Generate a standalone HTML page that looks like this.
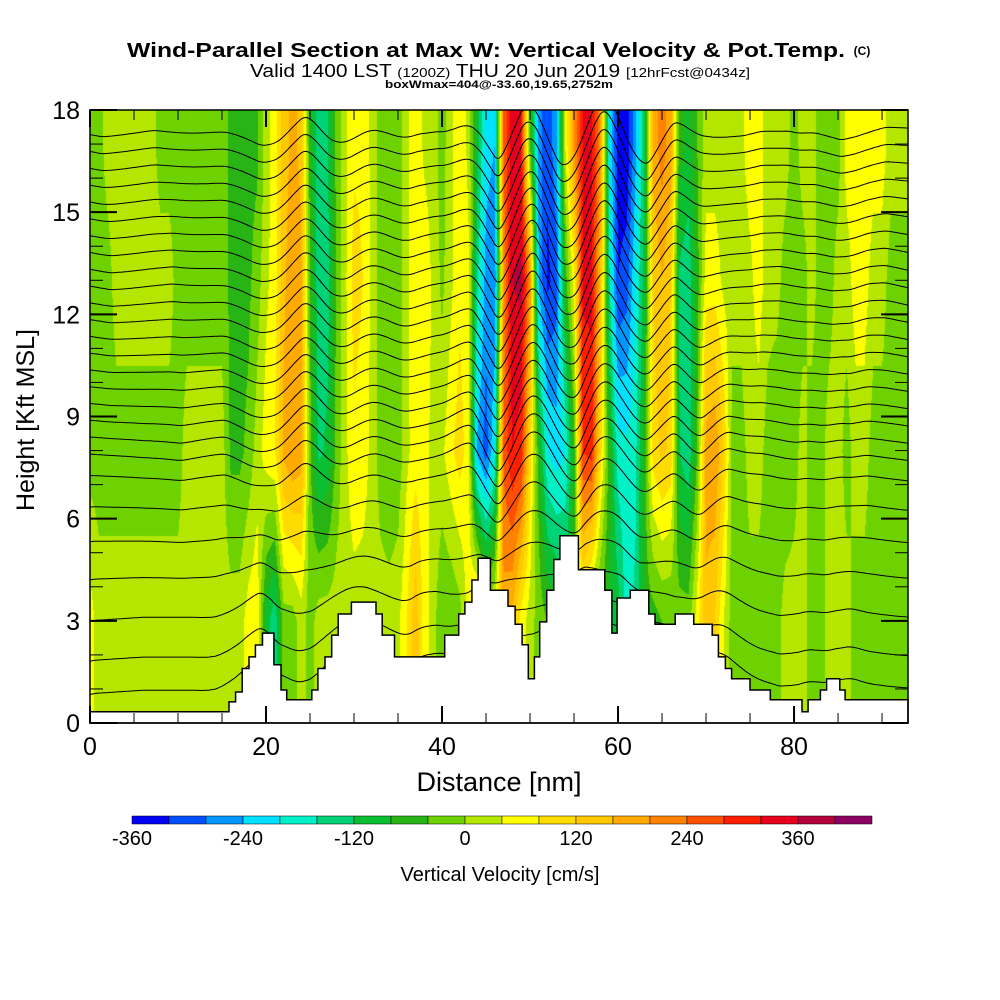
<!DOCTYPE html>
<html><head><meta charset="utf-8"><style>
body{margin:0;background:#fff;width:1000px;height:1000px;overflow:hidden;font-family:"Liberation Sans",sans-serif}
#wrap{position:relative;width:1000px;height:1000px}
canvas{position:absolute;left:90px;top:110px}
svg{position:absolute;left:0;top:0}
</style></head><body>
<div id="wrap">
<canvas id="cv" width="818" height="613"></canvas>
<svg id="sv" width="1000" height="1000">
<g id="lines"></g>
<g id="terrain"></g>
<g id="axes"></g>
<text x="127" y="57" font-size="20" font-weight="bold" textLength="718" lengthAdjust="spacingAndGlyphs">Wind-Parallel Section at Max W: Vertical Velocity &amp; Pot.Temp.</text>
<text x="862" y="55" text-anchor="middle" font-size="12" font-weight="bold">(C)</text>
<text x="250" y="77" font-size="18" textLength="500" lengthAdjust="spacingAndGlyphs">Valid 1400 LST <tspan font-size="13">(1200Z)</tspan> THU 20 Jun 2019 <tspan font-size="13">[12hrFcst@0434z]</tspan></text>
<text x="385" y="88" font-size="11" font-weight="bold" textLength="228" lengthAdjust="spacingAndGlyphs">boxWmax=404@-33.60,19.65,2752m</text>
<text x="499" y="791" text-anchor="middle" font-size="27">Distance [nm]</text>
<text transform="translate(34,420) rotate(-90)" text-anchor="middle" font-size="25">Height [Kft MSL]</text>
<g id="cbar"></g>
<text x="500" y="881" text-anchor="middle" font-size="20">Vertical Velocity [cm/s]</text>
</svg>
</div>
<script>
const levelsKft=[3,8,13,17];
const w3=[60,20,20,20,20,20,20,20,20,20,20,20,20,20,20,20,20,20,60,70,-100,-150,-20,-20,20,-20,20,20,20,20,20,20,20,20,20,30,80,150,60,20,-40,-40,-20,60,150,40,60,180,150,60,20,-20,-40,-60,-80,-60,40,-40,-60,-80,-100,-180,-150,-60,-60,-40,-40,-20,-20,60,150,120,40,-20,-20,-20,-20,-20,-20,20,20,20,-20,-20,20,20,20,-20,-20,-20,-20,-20,-20];
const w8=[-20,-20,-20,-20,-20,-20,-20,-20,-20,-20,-20,20,20,20,20,20,-50,-50,-30,20,60,80,170,200,180,-30,-130,-110,-30,30,70,60,30,-20,-40,-30,30,60,50,30,30,70,100,60,-250,-300,-200,250,320,300,100,-60,-200,-220,-200,-60,280,300,100,-60,-180,-190,-170,-60,100,130,110,-120,-150,-40,180,200,120,-20,-20,20,20,-20,-40,-40,-20,20,-20,-20,20,20,-20,20,20,-20,-20,-20,-20];
const w13=[-20,-20,-20,20,20,20,20,20,20,20,-20,-20,-20,-20,-20,-20,-50,-50,-50,-20,30,60,150,190,170,-40,-150,-140,-30,30,100,80,30,-20,-40,-30,30,80,70,30,-10,30,70,50,-150,-260,-280,200,360,370,200,-250,-330,-300,-60,60,330,330,150,-150,-320,-300,-200,-100,120,160,120,-130,-150,-60,60,60,30,20,20,30,60,20,20,-20,-20,-20,20,-20,-20,20,20,60,60,20,20,-20,-20];
const w17=[-20,-20,20,20,20,20,20,20,-20,-20,-20,-20,-20,-20,-20,-20,-50,-50,-50,-50,20,60,140,170,150,-60,-150,-120,-30,30,70,70,30,-20,-30,-20,30,70,30,20,-20,30,70,30,-100,-220,-240,250,340,320,-40,-260,-310,-250,40,200,320,330,200,-200,-340,-350,-250,-120,180,220,180,-60,-90,-40,20,20,20,20,30,60,60,20,20,20,-20,20,20,-20,-20,-20,60,60,60,60,60,20,20];
const colorBounds=[-360,-320,-280,-240,-200,-160,-120,-80,-40,0,40,80,120,160,200,240,280,320,360,400,440];
const colorList=["#0000f5","#0050ff","#0096ff","#00e1ff","#00f0c8","#00d278","#0ac032","#28b414","#6ed200","#b4e600","#ffff00","#ffdc00","#ffc800","#ffaa00","#ff8200","#ff5000","#ff1e00","#e6001e","#b4003c","#8c0064"];
const cbarTicks=[-360,-240,-120,0,120,240,360];
const xTicks=[0,20,40,60,80];
const yTicks=[0,3,6,9,12,15,18];
const terrainNm=[0,15.8,16.55,17.3,18.07,18.8,19.6,20.9,21.7,22.35,25.2,25.9,26.7,27.46,28.2,29.7,32.5,33.2,34.6,40.3,41.9,42.6,43.4,44.1,45.5,47.5,48.3,49.1,49.8,50.5,51.1,51.9,52.7,53.4,55.5,58.5,59.3,59.9,61.4,63.5,64.2,66.5,68.6,70.7,71.4,72.2,72.9,75.0,77.3,80.9,81.6,83.0,83.7,85.2,85.8];
const terrainKft=[0.33,0.62,0.91,1.6,1.94,2.29,2.64,1.71,0.97,0.68,0.97,1.6,1.94,2.58,3.2,3.55,3.2,2.58,1.94,2.58,3.2,3.55,4.2,4.84,3.9,3.43,2.9,2.3,1.3,1.94,2.97,3.9,4.8,5.5,4.5,3.9,2.64,3.67,3.9,3.2,2.9,3.2,2.9,2.58,1.94,1.6,1.3,0.97,0.68,0.33,0.68,0.97,1.3,0.97,0.68];
const thetaBase=[17.3,16.8,16.3,15.8,15.3,14.8,14.3,13.8,13.3,12.8,12.3,11.8,11.3,10.8,10.3,9.8,9.3,8.8,8.3,7.8,7.2,6.3,5.3,4.2,3.0,1.8,0.8];

const NS='http://www.w3.org/2000/svg';
const X0=90,X1=908,Y0=723,Y1=110,NMMAX=92.95,HMAX=18;
const sx=nm=>X0+nm*(X1-X0)/NMMAX;
const sy=h=>Y0-h*(Y0-Y1)/HMAX;
const levels=[w3,w8,w13,w17];
function wAt(nm,h){
  nm=Math.max(0,Math.min(92,nm));
  const i=Math.min(91,Math.floor(nm)),f=nm-i;
  const col=levels.map(a=>a[i]*(1-f)+a[i+1]*f);
  if(h<=levelsKft[0])return col[0];
  if(h>=levelsKft[3])return col[3];
  for(let k=0;k<3;k++){if(h<=levelsKft[k+1]){const t=(h-levelsKft[k])/(levelsKft[k+1]-levelsKft[k]);return col[k]*(1-t)+col[k+1]*t;}}
}
const cv=document.getElementById('cv'),ctx=cv.getContext('2d');
const img=ctx.createImageData(818,613);
const rgb=colorList.map(c=>[parseInt(c.substr(1,2),16),parseInt(c.substr(3,2),16),parseInt(c.substr(5,2),16)]);
for(let py=0;py<613;py++){const h=(Y0-(py+110))*HMAX/(Y0-Y1);
 for(let px=0;px<818;px++){const nm=(px+0.5)*NMMAX/(X1-X0);const w=wAt(nm,h);
  let i=Math.floor((w-colorBounds[0])/40);i=Math.max(0,Math.min(19,i));const c=rgb[i];const o=(py*818+px)*4;
  img.data[o]=c[0];img.data[o+1]=c[1];img.data[o+2]=c[2];img.data[o+3]=255;}}
ctx.putImageData(img,0,0);
function terrainAt(nm){let h=terrainKft[0];for(let i=0;i<terrainNm.length;i++){if(nm>=terrainNm[i])h=terrainKft[i];}return h;}
const lg=document.getElementById('lines');
const dx=0.25,N=Math.round(NMMAX/dx);
thetaBase.forEach((h0,li)=>{
  const C=[0];for(let j=1;j<=N;j++)C.push(C[j-1]+wAt(j*dx,h0)*dx);
  const pts=[];const win=24;
  for(let j=0;j<=N;j++){let s=0,n=0;for(let k=Math.max(0,j-win);k<=Math.min(N,j+win);k++){s+=C[k];n++;}
   let tz=0,tn=0;for(let k=-12;k<=12;k++){tz+=terrainAt((j+k)*dx);tn++;}
   const h=h0+0.0017*(C[j]-s/n)+Math.max(0,1-h0/7)*0.55*(tz/tn);
   pts.push(sx(j*dx).toFixed(1)+','+sy(Math.min(18,h)).toFixed(1));}
  const p=document.createElementNS(NS,'polyline');
  p.setAttribute('points',pts.join(' '));p.setAttribute('fill','none');p.setAttribute('stroke','#000');p.setAttribute('stroke-width','1');
  
  
  lg.appendChild(p);
});
const cp=document.createElementNS(NS,'clipPath');cp.setAttribute('id','pc');
const cr=document.createElementNS(NS,'rect');cr.setAttribute('x',X0);cr.setAttribute('y',Y1);cr.setAttribute('width',X1-X0);cr.setAttribute('height',Y0-Y1);cp.appendChild(cr);
document.getElementById('sv').insertBefore(cp,lg);lg.setAttribute('clip-path','url(#pc)');
let d='M'+sx(0)+','+Y0;
for(let i=0;i<terrainNm.length;i++){const x=sx(terrainNm[i]);d+=' L'+x.toFixed(1)+','+sy(terrainKft[i]).toFixed(1);const xn=i+1<terrainNm.length?sx(terrainNm[i+1]):X1;d+=' L'+xn.toFixed(1)+','+sy(terrainKft[i]).toFixed(1);}
d+=' L'+X1+','+Y0+' Z';
const tp=document.createElementNS(NS,'path');tp.setAttribute('d',d);tp.setAttribute('fill','#fff');tp.setAttribute('stroke','#000');tp.setAttribute('stroke-width','1.5');


document.getElementById('terrain').appendChild(tp);
const ax=document.getElementById('axes');
function line(x1,y1,x2,y2,w,name){const l=document.createElementNS(NS,'line');l.setAttribute('x1',x1);l.setAttribute('y1',y1);l.setAttribute('x2',x2);l.setAttribute('y2',y2);l.setAttribute('stroke','#000');l.setAttribute('stroke-width',w);
 
 
 ax.appendChild(l);}
function text(x,y,s,sz,anchor,name,parent){const t=document.createElementNS(NS,'text');t.setAttribute('x',x);t.setAttribute('y',y);t.setAttribute('font-size',sz);t.setAttribute('text-anchor',anchor);t.textContent=s;
 
 
 (parent||ax).appendChild(t);}
const fr=document.createElementNS(NS,'rect');fr.setAttribute('x',X0);fr.setAttribute('y',Y1);fr.setAttribute('width',X1-X0);fr.setAttribute('height',Y0-Y1);fr.setAttribute('fill','none');fr.setAttribute('stroke','#000');fr.setAttribute('stroke-width','1.5');


ax.appendChild(fr);
for(let nm=0;nm<=90;nm+=5){const x=sx(nm);const L=nm%20===0?17:10;line(x,Y0,x,Y0-L,nm%20===0?2:1,'x-tick');line(x,Y1,x,Y1+L,nm%20===0?2:1,'x-tick-top');}
for(let h=0;h<=18;h+=1){const y=sy(h);const L=h%3===0?27:13;line(X0,y,X0+L,y,h%3===0?2:1,'y-tick');line(X1,y,X1-L,y,h%3===0?2:1,'y-tick-right');}
xTicks.forEach(v=>text(sx(v),sy(0)+32,String(v),25,'middle','x-tick-label'));
yTicks.forEach(v=>text(80,sy(v)+9,String(v),25,'end','y-tick-label'));
const cb=document.getElementById('cbar');
const CB0=132,CBW=37;
colorList.forEach((c,i)=>{const r=document.createElementNS(NS,'rect');r.setAttribute('x',CB0+i*CBW);r.setAttribute('y',816);r.setAttribute('width',CBW);r.setAttribute('height',8);r.setAttribute('fill',c);r.setAttribute('stroke','#000');r.setAttribute('stroke-width','0.5');
 
 
 cb.appendChild(r);});
cbarTicks.forEach(v=>text(CB0+(v-colorBounds[0])/40*CBW,845,String(v),20,'middle','colorbar-label',cb));
</script>
</body></html>
